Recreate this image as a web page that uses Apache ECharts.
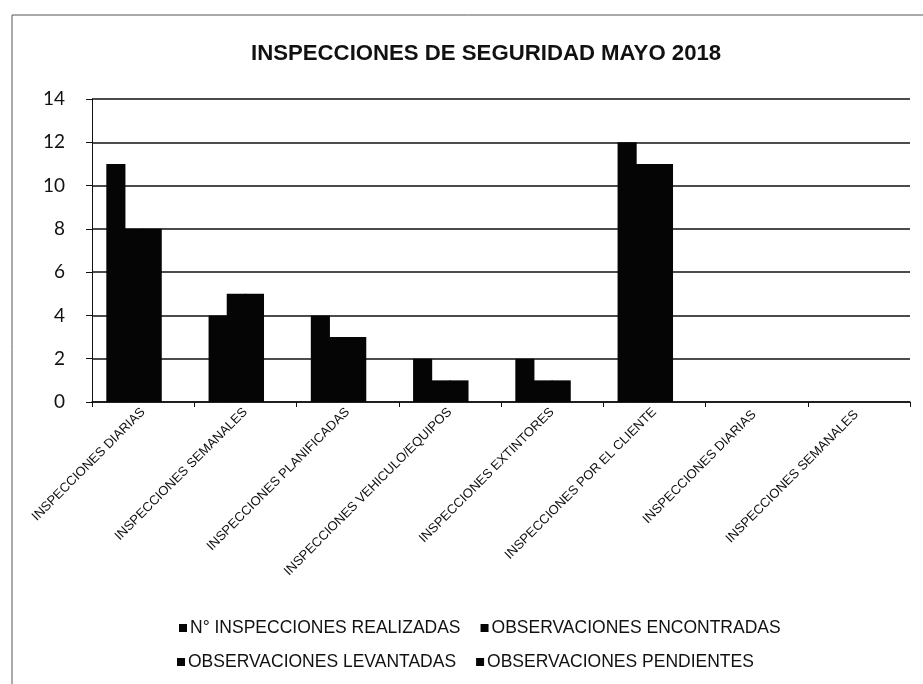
<!DOCTYPE html>
<html>
<head>
<meta charset="utf-8">
<script src="https://cdn.jsdelivr.net/npm/echarts@6/dist/echarts.min.js"></script>
<style>
  html, body { margin: 0; padding: 0; background: #fff; }
  #chart { width: 923px; height: 684px; }
</style>
</head>
<body>
<div id="chart"></div>
<script>
// Inspection categories along the x axis
const categories = [
  'INSPECCIONES DIARIAS',
  'INSPECCIONES SEMANALES',
  'INSPECCIONES PLANIFICADAS',
  'INSPECCIONES VEHICULO/EQUIPOS',
  'INSPECCIONES EXTINTORES',
  'INSPECCIONES POR EL CLIENTE',
  'INSPECCIONES DIARIAS ',
  'INSPECCIONES SEMANALES '
];

// Series names and values per category
const seriesNames = [
  'N° INSPECCIONES REALIZADAS',
  'OBSERVACIONES ENCONTRADAS',
  'OBSERVACIONES LEVANTADAS',
  'OBSERVACIONES PENDIENTES'
];
const realizadas  = [11, 4, 4, 2, 2, 12, 0, 0];
const encontradas = [8, 5, 3, 1, 1, 11, 0, 0];
const levantadas  = [8, 5, 3, 1, 1, 11, 0, 0];
const pendientes  = [0, 0, 0, 0, 0, 0, 0, 0];

// Value axis ticks
const yMin = 0, yMax = 14, yStep = 2;

const sans = "'Liberation Sans', Arial, sans-serif";
const values = [realizadas, encontradas, levantadas, pendientes];

const chart = echarts.init(document.getElementById('chart'), null, { renderer: 'canvas' });

const legendCommon = {
  itemWidth: 8,
  itemHeight: 8,
  icon: 'rect',
  itemGap: 20,
  textStyle: { fontFamily: sans, fontSize: 17.5, color: '#111', padding: [0, 0, 0, -2] }
};

chart.setOption({
  backgroundColor: '#fff',
  animation: false,
  title: {
    text: 'INSPECCIONES DE SEGURIDAD MAYO 2018',
    left: 246,
    top: 38,
    textStyle: { fontFamily: sans, fontWeight: 'bold', fontSize: 22.2, color: '#111' }
  },
  legend: [
    Object.assign({ data: [seriesNames[0], seriesNames[1]], left: 174, top: 614 }, legendCommon),
    Object.assign({ data: [seriesNames[2], seriesNames[3]], left: 172, top: 648 }, legendCommon)
  ],
  grid: { left: 92, right: 13, top: 99, bottom: 282, containLabel: false },
  xAxis: {
    type: 'category',
    data: categories,
    axisLine: { show: true, lineStyle: { color: '#111', width: 1.5 } },
    axisTick: { show: true, length: 5, lineStyle: { color: '#111' } },
    axisLabel: {
      rotate: 45,
      interval: 0,
      margin: 8,
      fontFamily: sans,
      fontSize: 13,
      color: '#111'
    }
  },
  yAxis: {
    type: 'value',
    min: yMin,
    max: yMax,
    interval: yStep,
    axisLine: { show: true, lineStyle: { color: '#111', width: 1 } },
    axisTick: { show: true, inside: false, length: 6, lineStyle: { color: '#111' } },
    axisLabel: {
      margin: 27,
      fontFamily: "Lato, 'Open Sans', sans-serif",
      fontSize: 19,
      color: '#111'
    },
    splitLine: { show: true, lineStyle: { color: '#111', width: 1.5 } }
  },
  series: seriesNames.map((name, i) => ({
    name: name,
    type: 'bar',
    data: values[i],
    barGap: '-5%',
    barCategoryGap: '28%',
    itemStyle: { color: '#050505', borderWidth: 0 }
  })),
  graphic: [
    { type: 'line', shape: { x1: 12, y1: 15, x2: 923, y2: 15 }, style: { stroke: '#555', lineWidth: 1 } },
    { type: 'line', shape: { x1: 12, y1: 15, x2: 12, y2: 684 }, style: { stroke: '#555', lineWidth: 1 } }
  ]
});
</script>
</body>
</html>
